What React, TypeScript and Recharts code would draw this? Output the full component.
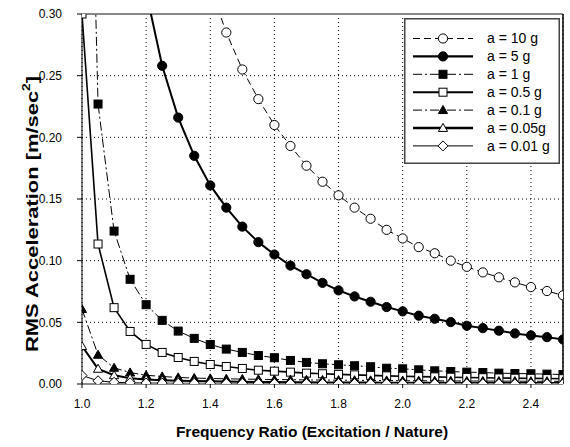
import React from 'react';
import {
  LineChart,
  Line,
  XAxis,
  YAxis,
  CartesianGrid,
  ReferenceLine,
  Legend,
} from 'recharts';

// Frequency ratio (excitation / natural frequency)
const freq = [
  1.0, 1.05, 1.1, 1.15, 1.2, 1.25, 1.3, 1.35, 1.4, 1.45, 1.5, 1.55, 1.6, 1.65, 1.7, 1.75,
  1.8, 1.85, 1.9, 1.95, 2.0, 2.05, 2.1, 2.15, 2.2, 2.25, 2.3, 2.35, 2.4, 2.45, 2.5,
];

// RMS acceleration [m/sec^2] for each excitation level
const a10 = [
  null, null, null, null, null, null, null, null, 0.322, 0.285, 0.255, 0.231, 0.21, 0.193,
  0.177, 0.164, 0.153, 0.143, 0.134, 0.125, 0.118, 0.111, 0.106, 0.1, 0.095, 0.0905,
  0.0865, 0.0824, 0.0786, 0.0754, 0.0719,
];
const a5 = [
  null, null, null, null, 0.318, 0.258, 0.216, 0.185, 0.161, 0.143, 0.1276, 0.115, 0.105,
  0.096, 0.089, 0.082, 0.0759, 0.071, 0.0667, 0.0624, 0.0589, 0.0554, 0.0529, 0.0502,
  0.0472, 0.0453, 0.0432, 0.041, 0.0394, 0.038, 0.0361,
];
const a1 = [
  0.75, 0.227, 0.124, 0.0849, 0.0643, 0.0516, 0.0429, 0.037, 0.032, 0.0283, 0.0256, 0.0231,
  0.0213, 0.0191, 0.0175, 0.0164, 0.0156, 0.0148, 0.014, 0.0128, 0.0123, 0.0115, 0.0107,
  0.0101, 0.0096, 0.0093, 0.0088, 0.0085, 0.0083, 0.008, 0.0077,
];
const a05 = [
  0.3, 0.1135, 0.0619, 0.0426, 0.0321, 0.0256, 0.0215, 0.0183, 0.0158, 0.0142, 0.0126,
  0.0112, 0.0104, 0.0096, 0.0088, 0.0083, 0.0078, 0.0074, 0.007, 0.0066, 0.0063, 0.006,
  0.0058, 0.0055, 0.0053, 0.0051, 0.0049, 0.0047, 0.0046, 0.0044, 0.0043,
];
const a01 = [
  0.0607, 0.0237, 0.0131, 0.0093, 0.0071, 0.0061, 0.0053, 0.0048, 0.0045, 0.0042, 0.004,
  0.0038, 0.0036, 0.0035, 0.0033, 0.0032, 0.0031, 0.003, 0.0029, 0.0028, 0.0027, 0.0026,
  0.0026, 0.0025, 0.0024, 0.0024, 0.0023, 0.0023, 0.0022, 0.0022, 0.0021,
];
const a005 = [
  0.0307, 0.0123, 0.0071, 0.0047, 0.0037, 0.0031, 0.0027, 0.0024, 0.0022, 0.002, 0.0018,
  0.0017, 0.0016, 0.0015, 0.0014, 0.0013, 0.0013, 0.0012, 0.0012, 0.0011, 0.0011, 0.001,
  0.001, 0.001, 0.0009, 0.0009, 0.0009, 0.0008, 0.0008, 0.0008, 0.0008,
];
const a001 = [
  0.0069, 0.0026, 0.0014, 0.001, 0.0008, 0.0007, 0.0006, 0.0006, 0.0005, 0.0005, 0.0005,
  0.0005, 0.0004, 0.0004, 0.0004, 0.0004, 0.0004, 0.0004, 0.0003, 0.0003, 0.0003, 0.0003,
  0.0003, 0.0003, 0.0003, 0.0003, 0.0003, 0.0002, 0.0002, 0.0002, 0.0002,
];

const seriesNames = ['a = 10 g', 'a = 5 g', 'a = 1 g', 'a = 0.5 g', 'a = 0.1 g', 'a = 0.05g', 'a = 0.01 g'];
const seriesKeys = ['a10', 'a5', 'a1', 'a05', 'a01', 'a005', 'a001'];

const xTicks = [1.0, 1.2, 1.4, 1.6, 1.8, 2.0, 2.2, 2.4];
const yTicks = [0, 0.05, 0.1, 0.15, 0.2, 0.25, 0.3];

const data = freq.map((f, i) => ({
  f,
  a10: a10[i],
  a5: a5[i],
  a1: a1[i],
  a05: a05[i],
  a01: a01[i],
  a005: a005[i],
  a001: a001[i],
}));

type Shape = 'circle' | 'square' | 'triangle' | 'diamond';

const styles: { shape: Shape; filled: boolean; width: number; dash?: string; size: number }[] = [
  { shape: 'circle', filled: false, width: 1, dash: '7 4', size: 4.6 },
  { shape: 'circle', filled: true, width: 2, size: 4.6 },
  { shape: 'square', filled: true, width: 1, dash: '9 3 2 3', size: 4 },
  { shape: 'square', filled: false, width: 1.6, size: 4 },
  { shape: 'triangle', filled: true, width: 1, dash: '9 3 2 3', size: 4.6 },
  { shape: 'triangle', filled: false, width: 2, size: 4.6 },
  { shape: 'diamond', filled: false, width: 1, size: 5 },
];

const FONT = '"Liberation Sans", Arial, Helvetica, sans-serif';

function Marker({ shape, filled, cx, cy, s }: { shape: Shape; filled: boolean; cx: number; cy: number; s: number }) {
  const fill = filled ? '#000' : '#fff';
  const common = { fill, stroke: '#000', strokeWidth: 1 };
  if (shape === 'circle') return <circle cx={cx} cy={cy} r={s} {...common} />;
  if (shape === 'square') return <rect x={cx - s} y={cy - s} width={2 * s} height={2 * s} {...common} />;
  if (shape === 'triangle')
    return <polygon points={`${cx},${cy - s} ${cx + s},${cy + s * 0.75} ${cx - s},${cy + s * 0.75}`} {...common} />;
  return <polygon points={`${cx},${cy - s} ${cx + s},${cy} ${cx},${cy + s} ${cx - s},${cy}`} {...common} />;
}

const makeDot = (idx: number) => (props: any) => {
  const st = styles[idx];
  const key = `${seriesKeys[idx]}-${props.index}`;
  if (props.cx == null || props.cy == null || props.value == null) return <g key={key} />;
  return <Marker key={key} shape={st.shape} filled={st.filled} cx={props.cx} cy={props.cy} s={st.size} />;
};

const LegendBox = () => (
  <svg width={156} height={146} style={{ display: 'block' }}>
    <rect x={0.75} y={0.75} width={154.5} height={144.5} fill="#fff" stroke="#444" strokeWidth={1.5} />
    {seriesNames.map((name, i) => {
      const st = styles[i];
      const y = 20.5 + i * 17.9;
      return (
        <g key={name}>
          <line x1={9} x2={69} y1={y} y2={y} stroke="#000" strokeWidth={st.width + (st.width > 1 ? 0.4 : 0)} strokeDasharray={st.dash} />
          <Marker shape={st.shape} filled={st.filled} cx={39} cy={y} s={st.size} />
          <text x={83} y={y + 4.8} fontFamily={FONT} fontSize={14} fill="#000">
            {name}
          </text>
        </g>
      );
    })}
  </svg>
);

const YTick = (props: any) => {
  const { x, y, payload } = props;
  return (
    <text x={x} y={y} dy={4.3} textAnchor="end" fontFamily={FONT} fontSize={12} fill="#000">
      {payload.value.toFixed(2)}
    </text>
  );
};

const XTick = (props: any) => {
  const { x, y, payload } = props;
  return (
    <text x={x} y={y} dy={8.5} textAnchor="middle" fontFamily={FONT} fontSize={12} fill="#000">
      {payload.value.toFixed(1)}
    </text>
  );
};

export default function App() {
  return (
    <div style={{ position: 'absolute', left: 0, top: 0, background: '#fff' }}>
      <LineChart
        width={570}
        height={447}
        data={data}
        margin={{ top: 14, right: 7, bottom: 0, left: 0 }}
      >
        <CartesianGrid stroke="#000" strokeDasharray="1 3" strokeWidth={1} />
        <XAxis
          dataKey="f"
          type="number"
          domain={[1, 2.5]}
          ticks={xTicks}
          allowDataOverflow
          height={63}
          stroke="#888"
          strokeWidth={2}
          tickSize={4}
          tickMargin={11}
          tickLine={{ stroke: '#000', strokeWidth: 1 }}
          tick={<XTick />}
          label={{
            content: () => (
              <text x={312} y={437} textAnchor="middle" fontFamily={FONT} fontSize={15.5} fontWeight="bold" fill="#000">
                Frequency Ratio (Excitation / Nature)
              </text>
            ),
          }}
        />
        <YAxis
          type="number"
          domain={[0, 0.3]}
          ticks={yTicks}
          allowDataOverflow
          width={82}
          stroke="#000"
          tickSize={5}
          tickMargin={15}
          tick={<YTick />}
          label={{
            content: () => (
              <text
                x={32}
                y={214}
                transform="rotate(-90 32 214)"
                textAnchor="middle"
                dominantBaseline="central"
                fontFamily={FONT}
                fontSize={16}
                fontWeight="bold"
                fill="#000"
                textLength={276}
                lengthAdjust="spacingAndGlyphs"
              >
                RMS Acceleration [m/sec
                <tspan dy={-6} fontSize={10}>2</tspan>
                <tspan dy={6}>]</tspan>
              </text>
            ),
          }}
        />
        <ReferenceLine y={0.3} stroke="#888" strokeWidth={2} />
        <ReferenceLine x={2.5} stroke="#000" strokeWidth={1.5} />
        {seriesKeys.map((k, i) => (
          <Line
            key={k}
            dataKey={k}
            name={seriesNames[i]}
            stroke="#000"
            strokeWidth={styles[i].width}
            strokeDasharray={styles[i].dash}
            dot={makeDot(i)}
            activeDot={false}
            isAnimationActive={false}
            connectNulls={false}
          />
        ))}
        <Legend
          layout="vertical"
          align="center"
          verticalAlign="middle"
          content={() => <LegendBox />}
          wrapperStyle={{ position: 'absolute', left: 404, top: 18, width: 156, height: 146 }}
        />
      </LineChart>
    </div>
  );
}
